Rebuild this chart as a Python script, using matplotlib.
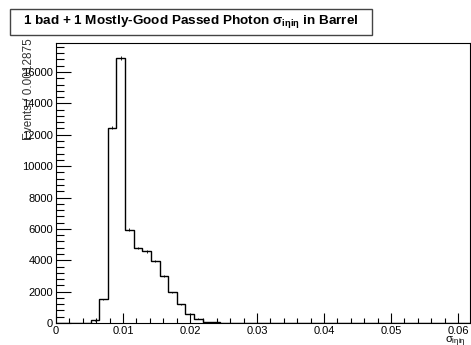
#!/usr/bin/python
# coding=utf-8

# Sigma ieta-ieta of photons in the barrel, ROOT-style histogram.

import matplotlib
matplotlib.use("Agg")
import matplotlib.pyplot as plt
import numpy as np
from matplotlib.patches import Rectangle
from matplotlib.ticker import MultipleLocator

plt.rcParams["font.family"] = ["Liberation Sans", "DejaVu Sans"]
plt.rcParams["mathtext.default"] = "regular"

# Binning: 48 bins of 0.0012875 from 0 to 0.0618.
bin_width = 0.0012875
n_bins = 48

# Bin contents (first 20 bins, the rest are empty).
counts_head = [0, 0, 10, 20, 170, 1500, 12450, 16920, 5950, 4780,
               4560, 3980, 2980, 1950, 1190, 580, 280, 85, 45, 10]
counts = np.array(counts_head + [0] * (n_bins - len(counts_head)), float)

edges = np.arange(n_bins + 1) * bin_width
centers = 0.5 * (edges[:-1] + edges[1:])

fig = plt.figure(figsize=(4.71, 3.45), dpi=100)
ax = fig.add_axes([56 / 471, 1 - 323 / 345, 414 / 471, 280 / 345])

ax.stairs(counts, edges, color="black", linewidth=1.0)
ax.errorbar(centers, counts, yerr=np.sqrt(counts), xerr=bin_width / 2,
            fmt="none", ecolor="black", elinewidth=0.6, capsize=0)

ax.set_xlim(0, edges[-1])
ax.set_ylim(0, 1.055 * counts.max())

ax.xaxis.set_major_locator(MultipleLocator(0.01))
ax.xaxis.set_minor_locator(MultipleLocator(0.002))
ax.yaxis.set_major_locator(MultipleLocator(2000))
ax.yaxis.set_minor_locator(MultipleLocator(400))
ax.xaxis.set_major_formatter(plt.FuncFormatter(lambda v, p: "0" if v == 0 else "%g" % v))

ax.tick_params(which="both", direction="in", top=False, right=False,
               labelsize=8, width=0.8, pad=2)
ax.tick_params(axis="x", which="major", length=7)
ax.tick_params(axis="x", which="minor", length=3.5)
ax.tick_params(axis="y", which="major", length=11)
ax.tick_params(axis="y", which="minor", length=6)
for s in ax.spines.values():
    s.set_linewidth(0.8)

ax.set_ylabel("Events / 0.0012875", fontsize=8.5, color="#333333")
ax.yaxis.set_label_coords(-0.066, 1.018)
ax.yaxis.label.set_ha("right")
ax.yaxis.label.set_va("center")

ax.set_xlabel(r"$\sigma_{i\eta i\eta}$", fontsize=8)
ax.xaxis.set_label_coords(0.965, -0.04)
ax.xaxis.label.set_ha("center")

# Title in a box, as ROOT draws it.
fig.add_artist(Rectangle((10 / 471, 1 - 35 / 345), 362 / 471, 26 / 345,
                         transform=fig.transFigure, facecolor="white",
                         edgecolor="#444444", linewidth=1.0))
fig.text(191 / 471, 1 - 22 / 345,
         r"1 bad + 1 Mostly-Good Passed Photon $\sigma_{i\eta i\eta}$ in Barrel",
         ha="center", va="center", fontsize=9.7, fontweight="bold")

fig.savefig("out.png", dpi=100)
